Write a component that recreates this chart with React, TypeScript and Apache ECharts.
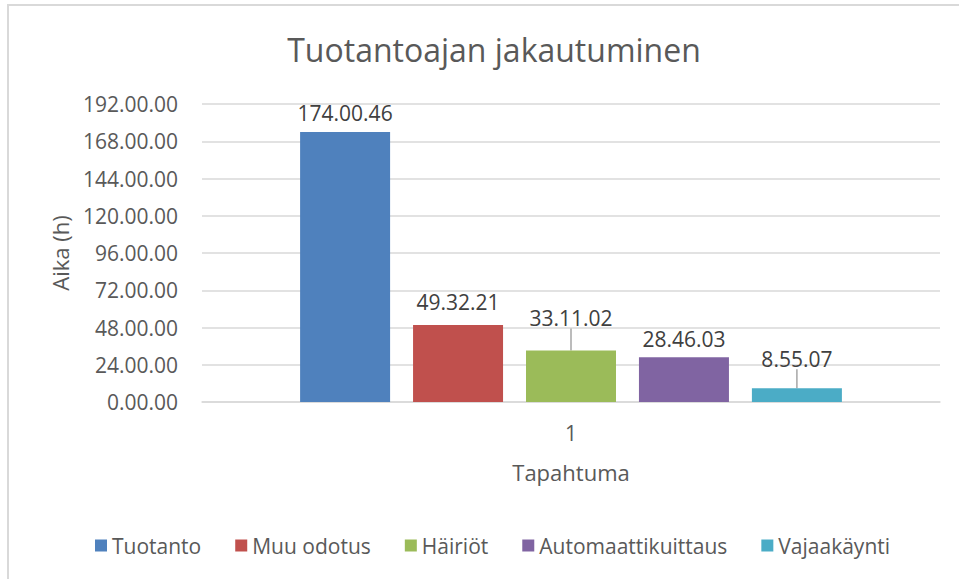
import React, { useEffect, useRef } from "react";
import * as echarts from "echarts";

const categories = ["1"];
const seriesNames = ["Tuotanto", "Muu odotus", "Häiriöt", "Automaattikuittaus", "Vajaakäynti"];
// durations, as h.mm.ss
const durationLabels = ["174.00.46", "49.32.21", "33.11.02", "28.46.03", "8.55.07"];
const yTickMax = 192;
const yTickStep = 24;

const colors = ["#4F81BD", "#C0504D", "#9BBB59", "#8064A2", "#4BACC6"];
const labelLift = [0, 0, -14, 0, -11];
const labelNudge = [0, -5, 0, 0, 0];

const toHours = (s: string) => {
  const [h, m, sec] = s.split(".").map(Number);
  return h + m / 60 + sec / 3600;
};

const FONT = "'Open Sans', sans-serif";
const TXT = "#595959";

export default function App() {
  const ref = useRef<HTMLDivElement>(null);
  useEffect(() => {
    if (!ref.current) return;
    const chart = echarts.init(ref.current, null, { renderer: "svg" });
    chart.setOption({
      animation: false,
      textStyle: { fontFamily: FONT },
      title: {
        text: "Tuotantoajan jakautuminen",
        left: 489,
        textAlign: "center",
        top: 28,
        textStyle: { fontFamily: FONT, fontSize: 32, fontWeight: "normal", color: TXT },
      },
      graphic: [
        {
          type: "rect",
          shape: { x: 8, y: 5, width: 1100, height: 700 },
          style: { fill: "none", stroke: "#d9d9d9", lineWidth: 2 },
          silent: true,
          z: -1,
        },
      ],
      legend: {
        left: 90,
        top: 530,
        icon: "rect",
        itemWidth: 12,
        itemHeight: 12,
        itemGap: 34,
        textStyle: { fontFamily: FONT, fontSize: 21, color: TXT, padding: [0, 0, 0, 0] },
        data: seriesNames,
      },
      grid: { left: 202, right: 19, top: 104, bottom: 177 },
      xAxis: {
        type: "category",
        data: categories,
        axisTick: { show: false },
        axisLine: { show: true, lineStyle: { color: "#d9d9d9", width: 1.5 } },
        axisLabel: { fontFamily: FONT, fontSize: 21, color: TXT, margin: 20 },
        name: "Tapahtuma",
        nameLocation: "middle",
        nameGap: 70,
        nameTextStyle: { fontFamily: FONT, fontSize: 22, color: TXT, verticalAlign: "middle" },
      },
      yAxis: {
        type: "value",
        min: 0,
        max: yTickMax,
        interval: yTickStep,
        axisLine: { show: false },
        axisTick: { show: false },
        splitLine: { lineStyle: { color: "#d9d9d9", width: 1.5 } },
        axisLabel: {
          fontFamily: FONT,
          fontSize: 21,
          color: TXT,
          margin: 24,
          formatter: (v: number) => `${v}.00.00`,
        },
        name: "Aika (h)",
        nameLocation: "middle",
        nameRotate: 90,
        nameGap: 142,
        nameTextStyle: { fontFamily: FONT, fontSize: 22, color: TXT, verticalAlign: "middle" },
      },
      series: seriesNames.map((name, i) => ({
        name,
        type: "bar",
        barWidth: 90,
        barGap: "25.5%",
        itemStyle: { color: colors[i] },
        data: [toHours(durationLabels[i])],
        label: {
          show: true,
          position: "top",
          distance: 8,
          offset: [0, labelNudge[i]],
          fontFamily: FONT,
          fontSize: 21,
          color: "#404040",
          formatter: () => durationLabels[i],
        },
        labelLayout: labelLift[i] ? { dy: labelLift[i] } : undefined,
        labelLine: labelLift[i]
          ? { show: true, lineStyle: { color: "#a6a6a6", width: 1.5 } }
          : undefined,
      })),
    });
    return () => chart.dispose();
  }, []);
  return (
    <div
      ref={ref}
      style={{ position: "absolute", left: 0, top: 0, width: 959, height: 579, background: "#fff" }}
    />
  );
}
